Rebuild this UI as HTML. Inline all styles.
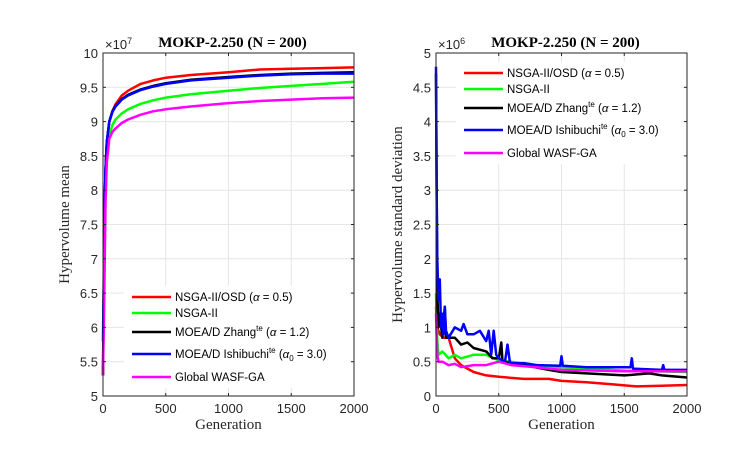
<!DOCTYPE html>
<html><head><meta charset="utf-8">
<style>
body{margin:0;background:#fff;}
svg{display:block;font-family:"Liberation Sans",sans-serif;}
.tick{font-size:13px;fill:#262626;}
.ser{font-family:"Liberation Serif",serif;}
.leg{font-size:11.5px;fill:#000;}
</style></head><body>
<svg id="chart" width="754" height="451" viewBox="0 0 754 451">
</svg>
<script>
// ---- data ----
const gensMean = [0,10,20,30,50,75,100,150,200,300,400,500,700,1000,1250,1500,1750,2000];
const meanRed = [5.3,7.5,8.3,8.7,9.0,9.15,9.25,9.38,9.45,9.55,9.6,9.64,9.68,9.72,9.76,9.77,9.78,9.79];
const meanGreen = [5.3,7.3,8.1,8.5,8.8,8.95,9.03,9.12,9.18,9.26,9.31,9.35,9.40,9.45,9.49,9.52,9.55,9.58];
const meanBlack = [5.3,7.5,8.3,8.7,9.0,9.15,9.23,9.33,9.39,9.47,9.52,9.56,9.61,9.65,9.68,9.70,9.71,9.72];
const meanBlue = [5.8,7.5,8.3,8.7,9.0,9.14,9.22,9.32,9.38,9.46,9.51,9.55,9.60,9.64,9.67,9.69,9.70,9.70];
const meanMagenta = [5.3,6.5,7.8,8.4,8.75,8.85,8.9,8.98,9.03,9.1,9.15,9.18,9.22,9.27,9.30,9.32,9.34,9.35];

const sdRedG = [0,10,30,60,100,150,200,300,400,500,700,900,1000,1200,1400,1600,1800,2000];
const sdRedV = [1.3,1.0,0.9,0.85,0.85,0.55,0.45,0.35,0.3,0.28,0.25,0.25,0.22,0.2,0.17,0.14,0.15,0.16];
const sdGreenG = [0,10,20,50,100,150,200,300,400,500,600,700,1000,1500,2000];
const sdGreenV = [1.5,0.8,0.6,0.65,0.55,0.6,0.55,0.6,0.6,0.52,0.5,0.47,0.42,0.37,0.35];
const sdBlackG = [0,10,20,30,50,70,80,150,200,250,300,400,450,500,520,530,700,900,1000,1200,1500,1700,1800,2000];
const sdBlackV = [4.7,1.5,1.0,1.2,0.85,1.3,0.85,0.85,0.75,0.78,0.7,0.65,0.55,0.55,0.78,0.5,0.45,0.38,0.35,0.33,0.3,0.33,0.3,0.27];
const sdBlueG = [0,5,10,20,30,40,50,60,70,80,100,150,200,220,250,300,350,400,420,440,460,480,500,550,570,590,700,800,990,1000,1010,1200,1400,1550,1560,1570,1800,1810,1820,2000];
const sdBlueV = [4.8,3.0,2.0,1.4,1.7,1.0,1.2,0.9,1.3,0.95,0.85,1.0,0.95,1.05,0.9,0.9,0.95,0.8,0.95,0.6,0.95,0.6,0.55,0.5,0.75,0.48,0.48,0.45,0.44,0.58,0.44,0.42,0.42,0.42,0.55,0.4,0.38,0.45,0.38,0.38];
const sdMagG = [0,10,20,50,100,150,200,300,400,500,600,800,1000,1500,2000];
const sdMagV = [1.2,0.6,0.5,0.5,0.45,0.47,0.42,0.45,0.45,0.5,0.45,0.42,0.38,0.36,0.36];

const xTicks = [0,500,1000,1500,2000];
const yTicksMean = [5,5.5,6,6.5,7,7.5,8,8.5,9,9.5,10];
const yTicksSd = [0,0.5,1,1.5,2,2.5,3,3.5,4,4.5,5];
const legendLabels = ['NSGA-II/OSD (<tspan font-style="italic">α</tspan> = 0.5)','NSGA-II','MOEA/D Zhang<tspan font-size="8" dy="-5">te</tspan><tspan dy="5"> (<tspan font-style="italic">α</tspan> = 1.2)</tspan>','MOEA/D Ishibuchi<tspan font-size="8" dy="-5">te</tspan><tspan dy="5"> (<tspan font-style="italic">α</tspan></tspan><tspan font-size="8" dy="3">0</tspan><tspan dy="-3"> = 3.0)</tspan>','Global WASF-GA'];
const colors = ['#ff0000','#00ff00','#000000','#0000ff','#ff00ff'];
const legOffsets = [0,16,35,57,80];

const svg = document.getElementById('chart');
const NS = 'http://www.w3.org/2000/svg';
function mk(tag, attrs, parent){const e=document.createElementNS(NS,tag);for(const k in attrs)e.setAttribute(k,attrs[k]);(parent||svg).appendChild(e);return e;}

function panel(x0,x1,y0,y1,ymin,ymax,yTicks,yLabel,yFmt,series,legY,legX,prefix,expText){
  const g = mk('g',{});
  
  
  const sx = v => x0 + (v/2000)*(x1-x0);
  const sy = v => y1 - (v-ymin)/(ymax-ymin)*(y1-y0);
  mk('rect',{x:x0,y:y0,width:x1-x0,height:y1-y0,fill:'#fff'},g);
  const grid = mk('g',{stroke:'#e6e6e6','stroke-width':1},g);
  
  
  xTicks.forEach(t=>{mk('line',{x1:sx(t),x2:sx(t),y1:y0,y2:y1},grid);});
  yTicks.forEach(t=>{mk('line',{x1:x0,x2:x1,y1:sy(t),y2:sy(t)},grid);});
  series.forEach((s,i)=>{
    const pts = s.g.map((gv,j)=>sx(gv).toFixed(1)+','+sy(s.v[j]).toFixed(1)).join(' ');
    const pl = mk('polyline',{points:pts,fill:'none',stroke:colors[i],'stroke-width':2.5,'stroke-linejoin':'round'},g);
    
    
  });
  mk('rect',{x:x0,y:y0,width:x1-x0,height:y1-y0,fill:'none',stroke:'#262626','stroke-width':1},g);
  xTicks.forEach(t=>{
    mk('line',{x1:sx(t),x2:sx(t),y1:y1,y2:y1-3,stroke:'#262626'},g);
    mk('line',{x1:sx(t),x2:sx(t),y1:y0,y2:y0+3,stroke:'#262626'},g);
    const tx = mk('text',{x:sx(t),y:y1+17,'text-anchor':'middle',class:'tick'},g);
    tx.textContent = t;
    
    
  });
  yTicks.forEach(t=>{
    mk('line',{x1:x0,x2:x0+3,y1:sy(t),y2:sy(t),stroke:'#262626'},g);
    mk('line',{x1:x1,x2:x1-3,y1:sy(t),y2:sy(t),stroke:'#262626'},g);
    const tx = mk('text',{x:x0-5,y:sy(t)+5,'text-anchor':'end',class:'tick'},g);
    tx.textContent = yFmt(t);
    
    
  });
  const ex = mk('text',{x:x0+2,y:y0-4,class:'tick','font-size':12},g);
  ex.innerHTML = '×10<tspan font-size="9" dy="-5">'+expText+'</tspan>';
  
  
  const ti = mk('text',{x:(x0+x1)/2+4,y:y0-6,'text-anchor':'middle',class:'ser','font-size':15,'font-weight':'bold'},g);
  ti.textContent = 'MOKP-2.250 (N = 200)';
  
  
  const xl = mk('text',{x:(x0+x1)/2,y:y1+33,'text-anchor':'middle',class:'ser','font-size':15,fill:'#262626'},g);
  xl.textContent = 'Generation';
  
  
  const yx = x0-34, yy=(y0+y1)/2;
  const yl = mk('text',{x:yx,y:yy,'text-anchor':'middle',class:'ser','font-size':15,fill:'#262626',transform:'rotate(-90 '+yx+' '+yy+')'},g);
  yl.textContent = yLabel;
  
  
  const lg = mk('g',{},g);
  
  
  mk('rect',{x:legX-8,y:legY-11,width:225,height:102,fill:'#fff'},lg);
  legendLabels.forEach((lab,i)=>{
    const yy2 = legY + legOffsets[i];
    mk('line',{x1:legX,x2:legX+39,y1:yy2,y2:yy2,stroke:colors[i],'stroke-width':2.5},lg);
    const t = mk('text',{x:legX+43,y:yy2+4,class:'leg'},lg);
    t.innerHTML = lab;
    
    
  });
}
panel(103,354,53,396,5,10,yTicksMean,'Hypervolume mean',t=>String(t),
  [{g:gensMean,v:meanRed},{g:gensMean,v:meanGreen},{g:gensMean,v:meanBlack},{g:gensMean,v:meanBlue},{g:gensMean,v:meanMagenta}],
  297,132,'mean','7');
panel(436,687,53,396,0,5,yTicksSd,'Hypervolume standard deviation',t=>String(t),
  [{g:sdRedG,v:sdRedV},{g:sdGreenG,v:sdGreenV},{g:sdBlackG,v:sdBlackV},{g:sdBlueG,v:sdBlueV},{g:sdMagG,v:sdMagV}],
  73,464,'sd','6');
</script>
</body></html>
